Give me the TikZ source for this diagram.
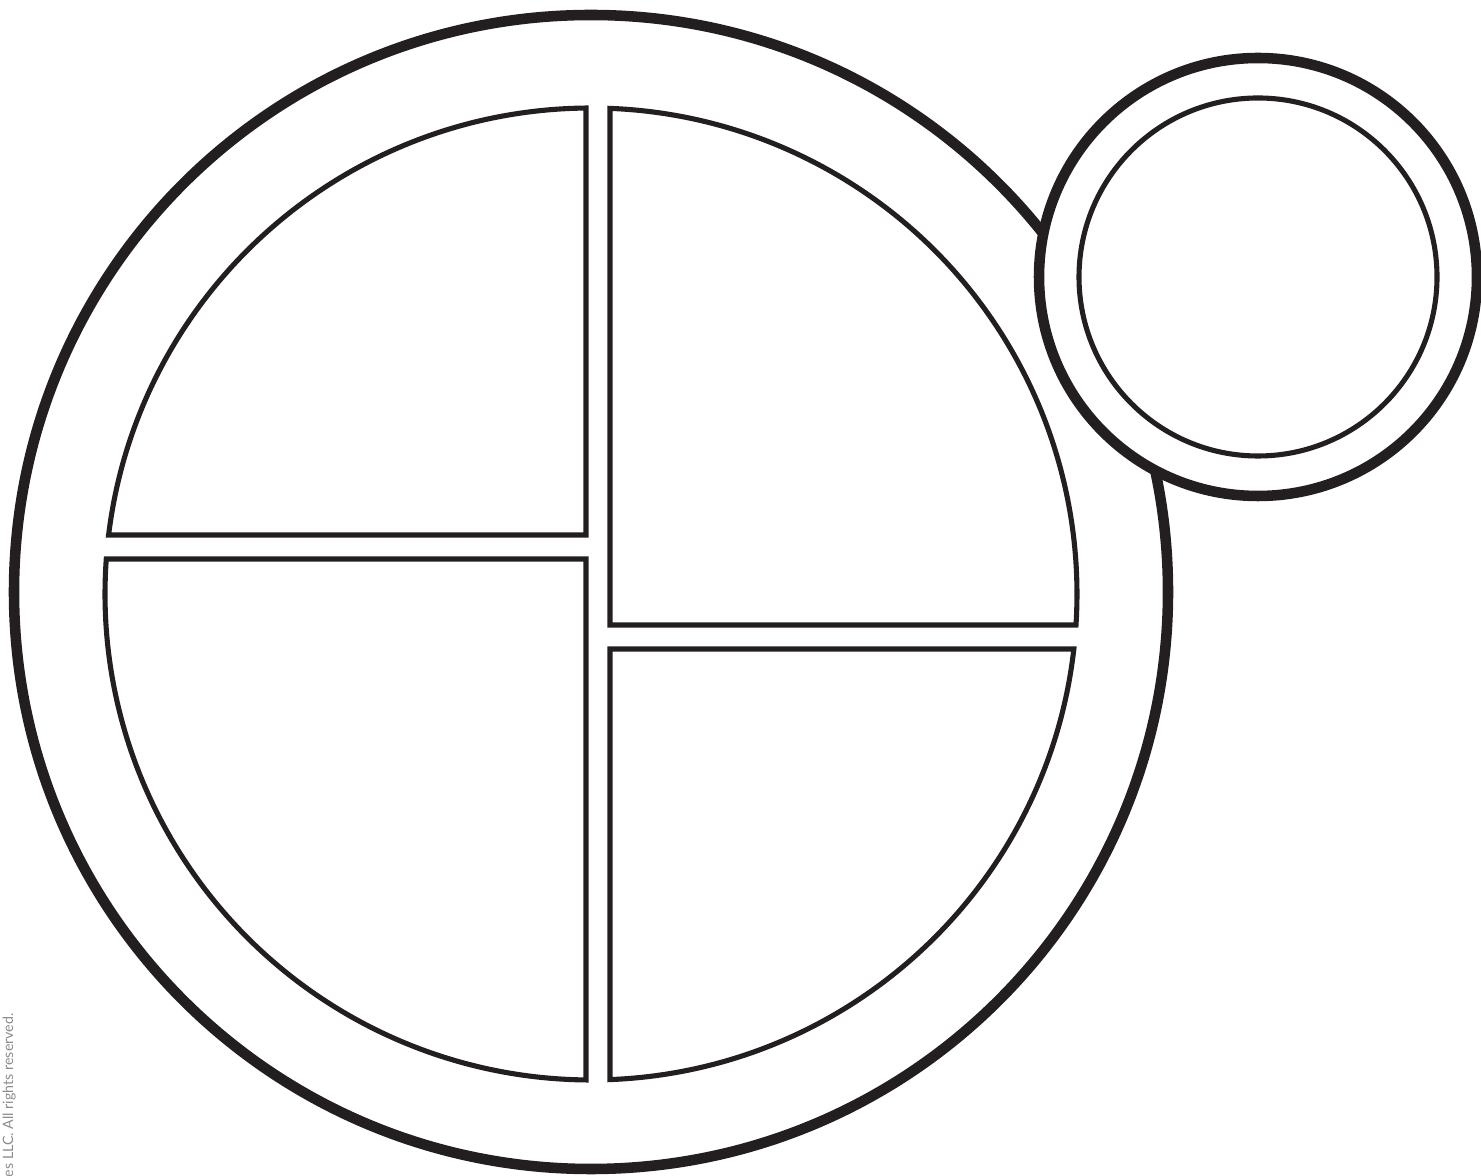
\documentclass[tikz,border=0pt]{standalone}
\usepackage{fontspec}
\newfontfamily\NoteFamily{Lato}
\usetikzlibrary{calc}
\definecolor{ink}{HTML}{231F20}
\definecolor{notegray}{HTML}{8C8C8C}
\newcommand{\NoteF}{\fontsize{8.1}{9.1}\selectfont\NoteFamily}
\tikzset{
  rimline/.style={draw=ink, line width=6pt},
  partline/.style={draw=ink, line width=2.9pt, line join=miter},
}
\begin{document}
\begin{tikzpicture}[x=0.02cm, y=0.02cm]
  \useasboundingbox (0,0) rectangle (1481,1176);
  \coordinate (plate) at (591,584);
  \coordinate (food) at (591,582);
  \coordinate (cup) at (1258,899);

  % plate rim
  \draw[rimline] (plate) circle (577);

  % four sections of the plate
  \draw[partline] ($(food)+({180-asin(59/486)}:486)$)
    arc[start angle={180-asin(59/486)}, end angle={90+asin(5/486)}, radius=486]
    -- ($(food)+(-5,59)$) -- cycle;
  \draw[partline] ($(food)+({180-asin(35/486)}:486)$)
    arc[start angle={180-asin(35/486)}, end angle={270-asin(5/486)}, radius=486]
    -- ($(food)+(-5,35)$) -- cycle;
  \draw[partline] ($(food)+({90-asin(19/486)}:486)$)
    arc[start angle={90-asin(19/486)}, end angle={-asin(31/486)}, radius=486]
    -- ($(food)+(19,-31)$) -- cycle;
  \draw[partline] ($(food)+({-asin(55/486)}:486)$)
    arc[start angle={-asin(55/486)}, end angle={-90+asin(19/486)}, radius=486]
    -- ($(food)+(19,-55)$) -- cycle;

  % side cup
  \draw[rimline, fill=white] (cup) circle (219);
  \draw[partline] (cup) circle (179);

  % note along the edge
  \node[rotate=90, anchor=base east, inner sep=0pt, text=notegray] (note)
    at (13,163) {\NoteF es LLC. All rights reserved.};
\end{tikzpicture}
\end{document}
